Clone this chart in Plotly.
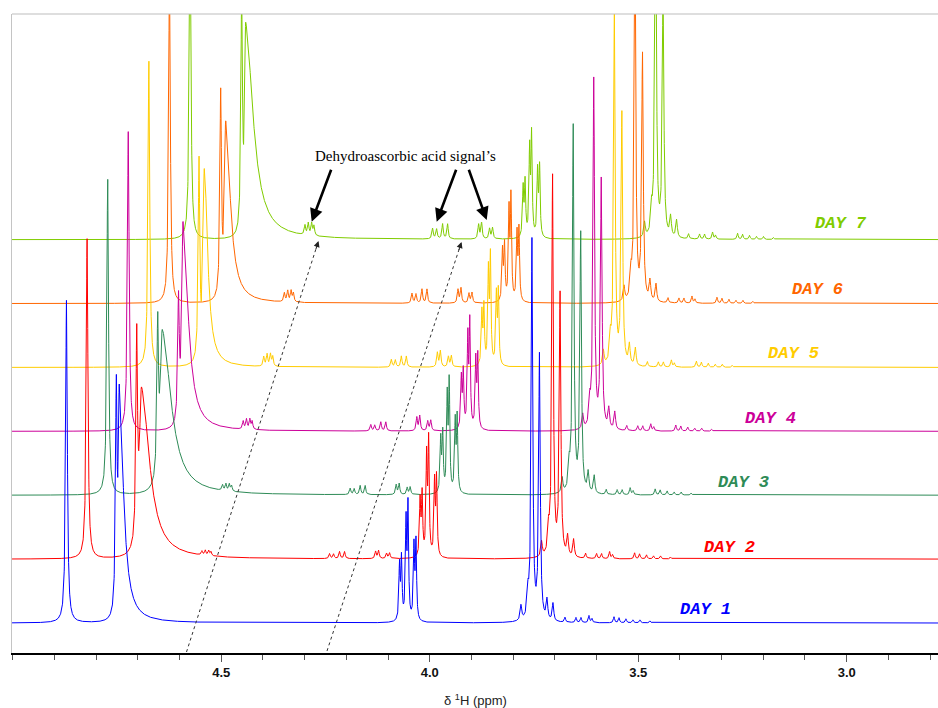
import numpy as np
import plotly.graph_objects as go

# ---------------- data (chemical shifts in ppm, DAY 1 frame; intensities in plot units) -------------
DAYS = ["DAY 1", "DAY 2", "DAY 3", "DAY 4", "DAY 5", "DAY 6", "DAY 7"]
COLORS = ["#0000FF", "#FF0000", "#2E8B57", "#CC0099", "#FFCC00", "#FF6600", "#80CC00"]

# H4 signal
H4_PPM = [4.8710]
H4_REL = [1.0]
H4_INT = [323, 320, 316, 300, 306, 330, 330]

# HDO / water signal (sharp + broad component, per day)
WATER_SPIKE_PPM = [4.7516, 4.7520, 4.7511, 4.7506, 4.7508, 4.7482, 4.7473]
WATER_SPIKE_INT = [218, 200, 147, 120, 197, 201, 232]
WATER_BROAD_PPM = [4.7444, 4.7405, 4.7401, 4.7398, 4.7381, 4.7362, 4.7377]
WATER_BROAD_INT = [220, 165, 160, 205, 193, 176, 206]
WATER_BROAD_WL = [0.0029, 0.0060, 0.0060, 0.0036, 0.0036, 0.0036, 0.0029]
WATER_BROAD_WR = [0.0120, 0.0230, 0.0252, 0.0144, 0.0096, 0.0132, 0.0216]

# H5 multiplet
H5_PPM = [4.0724, 4.0676, 4.0568, 4.0520, 4.0377, 4.0329]
H5_REL = [0.49, 0.54, 0.86, 1.0, 0.65, 0.69]
H5_INT = [112, 113, 108, 104, 106, 102, 100]

# H6 multiplet
H6_PPM = [3.7811, 3.7643, 3.7547, 3.7367, 3.7187, 3.7043]
H6_INT = [
    [15, 15, 15, 15, 15, 15, 15],
    [23, 23, 23, 23, 23, 23, 23],
    [381, 380, 367, 350, 353, 380, 380],
    [265, 262, 259, 249, 251, 246, 250],
    [20, 20, 20, 20, 20, 20, 20],
    [18, 18, 18, 18, 18, 18, 18],
]

# Dehydroascorbic acid signals
D1_PPM = [4.5955, 4.5875, 4.5794, 4.5739]
D1_REL = [0.8, 1.0, 1.0, 0.8]
D1_INT = [0, 5, 7, 10, 12, 11, 12]
D2_PPM = [4.2895, 4.2799, 4.2655, 4.2535]
D2_REL = [0.7, 0.65, 1.0, 1.0]
D2_INT = [0, 7, 9, 9, 11, 14, 15]
D3_PPM = [4.1791, 4.1720, 4.1528, 4.1456]
D3_REL = [0.9, 1.0, 0.65, 0.7]
D3_INT = [0, 8, 11, 15, 16, 15, 16]

# minor signals
MINOR_PPM = [3.6755, 3.6492, 3.6372, 3.6180, 3.6108, 3.5580, 3.5460, 3.5293, 3.5125, 3.4957, 3.4717]
MINOR_INT = [5, 5, 5, 7, 4, 6, 5, 4, 3, 3, 2]

TICK_VALUES = [4.5, 4.0, 3.5, 3.0]
TICK_LABELS = ["4.5", "4.0", "3.5", "3.0"]

# ---------------- stacking layout ----------------
STACK_SHIFT_PPM = 0.0494
BASE_Y0 = 30.0
BASE_DY = 63.9
X_LEFT, X_RIGHT = 5.0017, 2.781


def line(x, c, h, wl, wr=None):
    wr = wl if wr is None else wr
    w = np.where(x >= c, wl, wr)
    return h * w ** 2 / (w ** 2 + (x - c) ** 2)


def spectrum(x, d):
    y = np.zeros_like(x)
    for p, r in zip(H4_PPM, H4_REL):
        y += line(x, p, r * H4_INT[d], 0.0024)
    y += line(x, WATER_SPIKE_PPM[d], WATER_SPIKE_INT[d], 0.0022)
    y += line(x, WATER_BROAD_PPM[d], WATER_BROAD_INT[d], WATER_BROAD_WL[d], WATER_BROAD_WR[d])
    for p, r in zip(H5_PPM, H5_REL):
        y += line(x, p, r * H5_INT[d], 0.0017)
    for p, hs in zip(H6_PPM, H6_INT):
        y += line(x, p, hs[d], 0.0022)
    for ppms, rels, ints in ((D1_PPM, D1_REL, D1_INT), (D2_PPM, D2_REL, D2_INT), (D3_PPM, D3_REL, D3_INT)):
        for p, r in zip(ppms, rels):
            y += line(x, p, r * ints[d], 0.0019)
    for p, h in zip(MINOR_PPM, MINOR_INT):
        y += line(x, p, h, 0.0018)
    return y


grid = np.arange(X_RIGHT, X_LEFT, 0.0003)

fig = go.Figure()
for d in reversed(range(len(DAYS))):
    real = grid + d * STACK_SHIFT_PPM
    yv = BASE_Y0 + d * BASE_DY + spectrum(real, d)
    fig.add_trace(go.Scatter(x=grid, y=yv, mode="lines", name=DAYS[d],
                             line=dict(color=COLORS[d], width=1), hoverinfo="skip",
                             showlegend=False))

# pixel helpers for annotation placement
W_PX, L_PX = 926.0, 12.0


def px_x(x):
    return X_LEFT - (x - L_PX) * (X_LEFT - X_RIGHT) / W_PX


def px_y(y):
    return 653.0 - y


annotations = []
LABEL_POS = [(705, 609), (729, 547), (743, 482), (770, 418), (793, 353), (817, 289), (841, 223)]
for d, (lx, ly) in enumerate(LABEL_POS):
    annotations.append(dict(x=px_x(lx), y=px_y(ly), xref="x", yref="y", text=DAYS[d],
                            showarrow=False,
                            font=dict(family="Liberation Mono", size=17, color=COLORS[d],
                                      weight="bold", style="italic")))

annotations.append(dict(x=px_x(405), y=px_y(156), xref="x", yref="y",
                        text="Dehydroascorbic acid signal’s", showarrow=False,
                        font=dict(family="Liberation Serif", size=15, color="black")))

for tip, tail in [((311.7, 221.7), (331.7, 168.3)), ((436.7, 221.7), (456.7, 168.3)),
                  ((486.7, 220.0), (468.3, 168.3))]:
    annotations.append(dict(x=px_x(tip[0]), y=px_y(tip[1]), xref="x", yref="y", text="",
                            showarrow=True, ax=tail[0] - tip[0], ay=tail[1] - tip[1],
                            arrowhead=2, arrowsize=1, arrowwidth=2.6, arrowcolor="black"))

shapes = [dict(type="line", xref="paper", yref="paper", x0=0, x1=1, y0=1, y1=1,
               line=dict(color="#bdbdbd", width=1))]
for (x0, y0), (x1, y1) in [((186.5, 652), (318.5, 241)), ((327, 651), (461.5, 242))]:
    shapes.append(dict(type="line", xref="x", yref="y", x0=px_x(x0), y0=px_y(y0),
                       x1=px_x(x1), y1=px_y(y1), line=dict(color="#333", width=1, dash="dot")))
    vx, vy = x0 - x1, y0 - y1
    n = (vx ** 2 + vy ** 2) ** 0.5
    annotations.append(dict(x=px_x(x1), y=px_y(y1), xref="x", yref="y", text="", showarrow=True,
                            ax=vx / n * 10, ay=vy / n * 10, arrowhead=2, arrowsize=1.2,
                            arrowwidth=1, arrowcolor="#222"))

annotations.append(dict(x=0.5, y=(653 - 700) / 639.0, xref="paper", yref="paper",
                        text="δ <sup>1</sup>H (ppm)", showarrow=False, yanchor="middle",
                        font=dict(family="Liberation Sans", size=13, color="#222")))

minor_vals = [round(v, 1) for v in np.arange(2.8, 5.05, 0.1) if round(v, 1) not in TICK_VALUES]

fig.update_layout(
    width=938, height=708,
    margin=dict(l=12, r=0, t=14, b=55),
    paper_bgcolor="white", plot_bgcolor="white",
    annotations=annotations, shapes=shapes,
    xaxis=dict(range=[X_LEFT, X_RIGHT], autorange=False, tickvals=TICK_VALUES, ticktext=TICK_LABELS,
               ticks="outside", ticklen=7, tickwidth=1.3, tickcolor="#555",
               minor=dict(tickvals=minor_vals, ticks="outside", ticklen=5, tickwidth=1.3, tickcolor="#555"),
               showline=True, linecolor="black", linewidth=1.5, showgrid=False, zeroline=False,
               tickfont=dict(family="Liberation Sans", size=13, color="#111", weight="bold")),
    yaxis=dict(range=[0, 639], autorange=False, showticklabels=False, ticks="", showgrid=False,
               zeroline=False, showline=True, linecolor="#c4c4c4", linewidth=1),
)

fig.write_html("out.html", config={"displayModeBar": False},
               post_script="document.body.style.margin='0px';document.documentElement.style.overflow='hidden';")
